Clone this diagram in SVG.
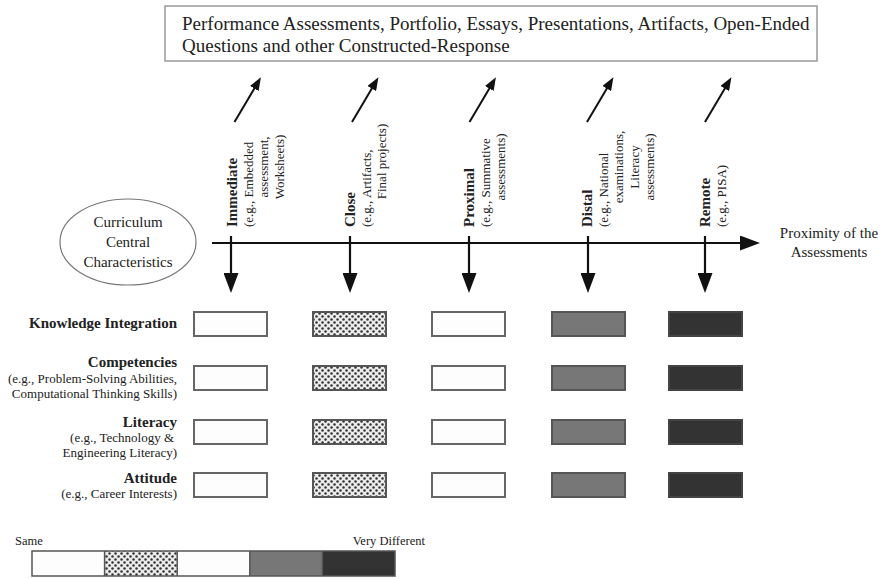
<svg xmlns="http://www.w3.org/2000/svg" width="880" height="578" viewBox="0 0 880 578">
<style>
text{font-family:"Liberation Serif","Times New Roman",serif;fill:#222}
.top{font-size:19px}
.b{font-weight:bold;font-size:15px}
.s{font-size:13px}
.rl{font-size:13px;text-anchor:end}
.rb{font-size:15px;font-weight:bold;text-anchor:end}
.m{text-anchor:middle}
.ln{stroke:#111;stroke-width:2.2;fill:none}
.dg{stroke:#111;stroke-width:2;fill:none}
.w{fill:#fdfdfd;stroke:#666;stroke-width:2}
.p{fill:url(#dots);stroke:#555;stroke-width:2}
.g{fill:#777;stroke:#555;stroke-width:2}
.d{fill:#333;stroke:#444;stroke-width:2}
</style>
<defs>
<pattern id="dots" width="6" height="6" patternUnits="userSpaceOnUse">
<rect width="6" height="6" fill="#ececec"/>
<circle cx="1.5" cy="1.5" r="1.25" fill="#333"/>
<circle cx="4.5" cy="4.5" r="1.25" fill="#333"/>
</pattern>
<marker id="hd" markerUnits="userSpaceOnUse" markerWidth="20" markerHeight="15" viewBox="0 0 20 15" refX="1" refY="7.5" orient="auto">
<path d="M0,0 L20,7.5 L0,15 z" fill="#111"/>
</marker>
<marker id="hs" markerUnits="userSpaceOnUse" markerWidth="13" markerHeight="10" viewBox="0 0 13 10" refX="1" refY="5" orient="auto">
<path d="M0,0 L13,5 L0,10 z" fill="#111"/>
</marker>
</defs>
<rect width="880" height="578" fill="#fff"/>

<g id="assessments-box">
<rect x="165" y="6" width="652" height="55" fill="#fff" stroke="#999" stroke-width="1.5"/>
<text class="top" x="182" y="30">Performance Assessments, Portfolio, Essays, Presentations, Artifacts, Open-Ended</text>
<text class="top" x="182" y="52">Questions and other Constructed-Response</text>
</g>

<g id="curriculum">
<ellipse cx="128" cy="242" rx="68" ry="43" fill="#fff" stroke="#777" stroke-width="1.2"/>
<text class="m" x="128" y="227" font-size="15">Curriculum</text>
<text class="m" x="128" y="247" font-size="15">Central</text>
<text class="m" x="128" y="267" font-size="15">Characteristics</text>
</g>

<g id="proximity-label">
<text class="m" x="829" y="238" font-size="15">Proximity of the</text>
<text class="m" x="829" y="257" font-size="15">Assessments</text>
</g>

<g id="connectors">
<line class="ln" x1="212" y1="243" x2="741" y2="243" marker-end="url(#hd)"/>
<line class="ln" x1="231" y1="236" x2="269" y2="236" transform="rotate(90 231 236)" marker-end="url(#hd)"/>
<line class="ln" x1="350" y1="236" x2="388" y2="236" transform="rotate(90 350 236)" marker-end="url(#hd)"/>
<line class="ln" x1="469" y1="236" x2="507" y2="236" transform="rotate(90 469 236)" marker-end="url(#hd)"/>
<line class="ln" x1="588" y1="236" x2="626" y2="236" transform="rotate(90 588 236)" marker-end="url(#hd)"/>
<line class="ln" x1="705" y1="236" x2="743" y2="236" transform="rotate(90 705 236)" marker-end="url(#hd)"/>
<line class="dg" x1="234.5" y1="122" x2="254.8" y2="87.7" marker-end="url(#hs)"/>
<line class="dg" x1="352" y1="122" x2="372.3" y2="87.7" marker-end="url(#hs)"/>
<line class="dg" x1="469.5" y1="122" x2="489.8" y2="87.7" marker-end="url(#hs)"/>
<line class="dg" x1="587" y1="122" x2="607.3" y2="87.7" marker-end="url(#hs)"/>
<line class="dg" x1="705" y1="122" x2="725.3" y2="87.7" marker-end="url(#hs)"/>
</g>

<g id="col-immediate" transform="translate(237 227) rotate(-90)">
<text class="b" x="0" y="0">Immediate</text>
<text class="s" x="0" y="15.5">(e.g., Embedded</text>
<text class="s m" x="60" y="31">assessment,</text>
<text class="s m" x="60" y="46.5">Worksheets)</text>
</g>
<g id="col-close" transform="translate(355 227) rotate(-90)">
<text class="b" x="0" y="0">Close</text>
<text class="s" x="0" y="15.5">(e.g., Artifacts,</text>
<text class="s m" x="65.5" y="31">Final projects)</text>
</g>
<g id="col-proximal" transform="translate(474 227) rotate(-90)">
<text class="b" x="0" y="0">Proximal</text>
<text class="s" x="0" y="15.5">(e.g., Summative</text>
<text class="s m" x="60" y="31">assessments)</text>
</g>
<g id="col-distal" transform="translate(592 227) rotate(-90)">
<text class="b" x="0" y="0">Distal</text>
<text class="s" x="0" y="15.5">(e.g., National</text>
<text class="s m" x="60" y="31">examinations,</text>
<text class="s m" x="60" y="46.5">Literacy</text>
<text class="s m" x="60" y="62">assessments)</text>
</g>
<g id="col-remote" transform="translate(710 227) rotate(-90)">
<text class="b" x="0" y="0">Remote</text>
<text class="s" x="0" y="15.5">(e.g., PISA)</text>
</g>

<g id="row-knowledge">
<text class="rb" x="177" y="328">Knowledge Integration</text>
<rect class="w" x="194" y="312" width="73" height="24"/>
<rect class="p" x="313" y="312" width="73" height="24"/>
<rect class="w" x="432" y="312" width="73" height="24"/>
<rect class="g" x="552" y="312" width="73" height="24"/>
<rect class="d" x="669" y="312" width="73" height="24"/>
</g>
<g id="row-competencies">
<text class="rb" x="177" y="367">Competencies</text>
<text class="rl" x="177" y="383">(e.g., Problem-Solving Abilities,</text>
<text class="rl" x="177" y="398">Computational Thinking Skills)</text>
<rect class="w" x="194" y="366" width="73" height="24"/>
<rect class="p" x="313" y="366" width="73" height="24"/>
<rect class="w" x="432" y="366" width="73" height="24"/>
<rect class="g" x="552" y="366" width="73" height="24"/>
<rect class="d" x="669" y="366" width="73" height="24"/>
</g>
<g id="row-literacy">
<text class="rb" x="177" y="427">Literacy</text>
<text class="rl" x="174" y="442">(e.g., Technology &amp;</text>
<text class="rl" x="177" y="457">Engineering Literacy)</text>
<rect class="w" x="194" y="420" width="73" height="24"/>
<rect class="p" x="313" y="420" width="73" height="24"/>
<rect class="w" x="432" y="420" width="73" height="24"/>
<rect class="g" x="552" y="420" width="73" height="24"/>
<rect class="d" x="669" y="420" width="73" height="24"/>
</g>
<g id="row-attitude">
<text class="rb" x="177" y="483">Attitude</text>
<text class="rl" x="177" y="498">(e.g., Career Interests)</text>
<rect class="w" x="194" y="473" width="73" height="24"/>
<rect class="p" x="313" y="473" width="73" height="24"/>
<rect class="w" x="432" y="473" width="73" height="24"/>
<rect class="g" x="552" y="473" width="73" height="24"/>
<rect class="d" x="669" y="473" width="73" height="24"/>
</g>

<g id="legend">
<text x="15" y="545" font-size="12.5">Same</text>
<text x="425" y="545" font-size="12.5" text-anchor="end">Very Different</text>
<rect x="32" y="551" width="72.6" height="25" fill="#fdfdfd"/>
<rect x="104.6" y="551" width="72.6" height="25" fill="url(#dots)"/>
<rect x="177.2" y="551" width="72.6" height="25" fill="#fdfdfd"/>
<rect x="249.8" y="551" width="72.6" height="25" fill="#777"/>
<rect x="322.4" y="551" width="72.6" height="25" fill="#333"/>
<g stroke="#555" stroke-width="1.5" fill="none">
<rect x="32" y="551" width="363" height="25"/>
<line x1="104.6" y1="551" x2="104.6" y2="576"/>
<line x1="177.2" y1="551" x2="177.2" y2="576"/>
<line x1="249.8" y1="551" x2="249.8" y2="576"/>
<line x1="322.4" y1="551" x2="322.4" y2="576"/>
</g>
</g>
</svg>
